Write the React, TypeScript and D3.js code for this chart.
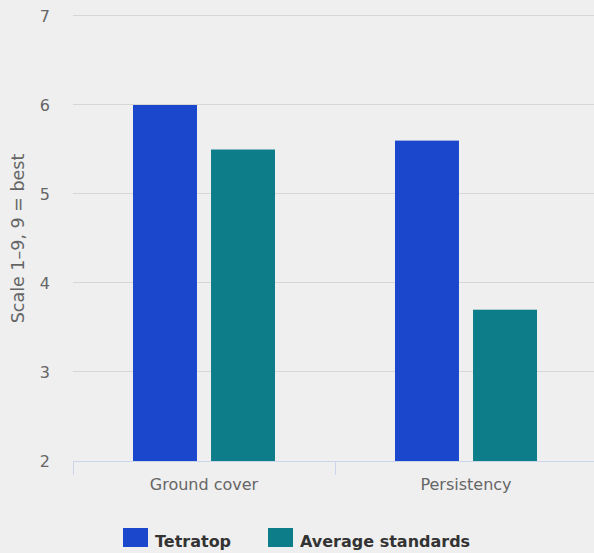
import { useEffect, useRef } from "react";
import * as d3 from "d3";

const categories = ["Ground cover", "Persistency"];
const seriesNames = ["Tetratop", "Average standards"];
const tetratop = [6.0, 5.6];
const averageStandards = [5.5, 3.7];
const yTicks = [2, 3, 4, 5, 6, 7];
const colors = ["#1a47cc", "#0d7e89"];

export default function App() {
    const svgRef = useRef<SVGSVGElement | null>(null);

    useEffect(() => {
        if (!svgRef.current) return;

        const width = 594;
        const height = 553;
        const left = 73;
        const font = "'DejaVu Sans', sans-serif";
        const svg = d3.select(svgRef.current);
        svg.selectAll("*").remove();

        svg.append("rect")
            .attr("width", width)
            .attr("height", height)
            .attr("fill", "#efefef");

        const y = d3.scaleLinear().domain([2, 7]).range([461, 16]);
        // each category gets 262px, the second one runs past the right edge
        const x = d3.scaleBand().domain(categories).range([left, left + 524]);
        const inner = d3.scaleBand().domain(seriesNames).range([60, 202]).paddingInner(0.18);

        // grid
        svg.append("g")
            .selectAll("line")
            .data(yTicks.slice(1))
            .join("line")
            .attr("x1", left)
            .attr("x2", width)
            .attr("y1", d => Math.round(y(d)) - 0.5)
            .attr("y2", d => Math.round(y(d)) - 0.5)
            .attr("stroke", "#d6d6d6")
            .attr("stroke-width", 1);

        svg.append("g")
            .selectAll("text")
            .data(yTicks)
            .join("text")
            .attr("x", 50)
            .attr("y", d => y(d) + 6)
            .attr("text-anchor", "end")
            .attr("font-family", font)
            .attr("font-size", 16)
            .attr("fill", "#666")
            .text(d => d);

        svg.append("text")
            .attr("transform", `translate(24,${(y(2) + y(7)) / 2}) rotate(-90)`)
            .attr("text-anchor", "middle")
            .attr("font-family", font)
            .attr("font-size", 17.5)
            .attr("fill", "#666")
            .text("Scale 1–9, 9 = best");

        const values = [tetratop, averageStandards];
        seriesNames.forEach((name, s) => {
            svg.append("g")
                .selectAll("rect")
                .data(categories)
                .join("rect")
                .attr("x", (c) => (x(c) as number) + (inner(name) as number))
                .attr("width", inner.bandwidth())
                .attr("y", (_c, i) => y(values[s][i]))
                .attr("height", (_c, i) => y(2) - y(values[s][i]))
                .attr("fill", colors[s]);
        });

        // x axis
        svg.append("line")
            .attr("x1", left)
            .attr("x2", width)
            .attr("y1", y(2) + 0.5)
            .attr("y2", y(2) + 0.5)
            .attr("stroke", "#ccd6eb");

        svg.append("g")
            .selectAll("line")
            .data(categories)
            .join("line")
            .attr("x1", c => (x(c) as number) + 0.5)
            .attr("x2", c => (x(c) as number) + 0.5)
            .attr("y1", y(2))
            .attr("y2", y(2) + 14)
            .attr("stroke", "#ccd6eb");

        svg.append("g")
            .selectAll("text")
            .data(categories)
            .join("text")
            .attr("x", c => (x(c) as number) + 131)
            .attr("y", 490)
            .attr("text-anchor", "middle")
            .attr("font-family", font)
            .attr("font-size", 16)
            .attr("fill", "#666")
            .text(c => c);

        // legend
        const legendX = [123, 268];
        const legend = svg.append("g")
            .selectAll("g")
            .data(seriesNames)
            .join("g")
            .attr("transform", (_d, i) => `translate(${legendX[i]},528)`);
        legend.append("rect")
            .attr("width", 25)
            .attr("height", 19)
            .attr("fill", (_d, i) => colors[i]);
        legend.append("text")
            .attr("x", 32)
            .attr("y", 19)
            .attr("font-family", font)
            .attr("font-size", 16)
            .attr("font-weight", "bold")
            .attr("fill", "#333")
            .text(d => d);
    }, []);

    return (
        <svg
            ref={svgRef}
            width={594}
            height={553}
            style={{ display: "block", position: "absolute", left: 0, top: 0 }}
        />
    );
}
